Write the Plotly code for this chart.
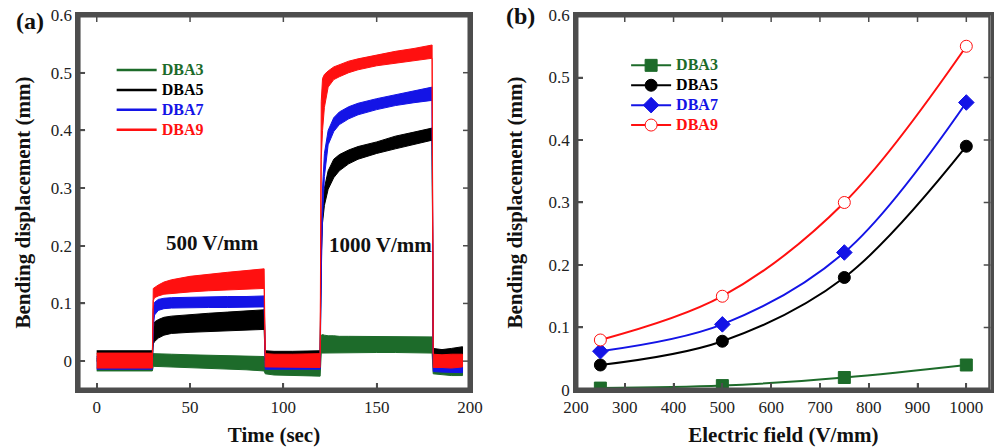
import plotly.graph_objects as go

# ---------------- Panel (a): time response (noise band envelopes) ----------------
time_s = [0, 29.8, 30.3, 31, 33, 36, 40, 50, 60, 70, 80, 89.7, 90.3, 95, 105, 119.7,
          120.3, 121, 122, 124, 127, 130, 135, 140, 150, 160, 170, 179.7, 180.3, 185, 190, 196]

dba9_upper = [0.014, 0.014, 0.126, 0.128, 0.132, 0.137, 0.141, 0.147, 0.151, 0.154, 0.157, 0.160,
              0.013, 0.012, 0.012, 0.013, 0.45, 0.49, 0.497, 0.503, 0.51, 0.514, 0.52, 0.524,
              0.531, 0.537, 0.542, 0.548, 0.012, 0.011, 0.012, 0.012]
dba9_lower = [-0.012, -0.012, 0.105, 0.110, 0.113, 0.116, 0.118, 0.120, 0.122, 0.124, 0.125, 0.126,
              -0.010, -0.011, -0.011, -0.011, 0.35, 0.40, 0.44, 0.475, 0.488, 0.493, 0.5, 0.505,
              0.512, 0.517, 0.521, 0.525, -0.011, -0.011, -0.012, -0.010]

dba7_upper = [0.008, 0.008, 0.09, 0.102, 0.107, 0.109, 0.110, 0.111, 0.111, 0.112, 0.112, 0.113,
              0.006, 0.006, 0.006, 0.006, 0.2, 0.3, 0.36, 0.40, 0.422, 0.432, 0.441, 0.447,
              0.455, 0.462, 0.468, 0.475, 0.002, 0.001, 0.002, 0.002]
dba7_lower = [-0.014, -0.014, 0.06, 0.080, 0.088, 0.091, 0.092, 0.093, 0.093, 0.093, 0.093, 0.094,
              -0.014, -0.014, -0.014, -0.014, 0.15, 0.25, 0.32, 0.375, 0.398, 0.41, 0.42, 0.427,
              0.436, 0.443, 0.448, 0.452, -0.018, -0.019, -0.020, -0.020]

dba5_upper = [0.018, 0.018, 0.05, 0.068, 0.072, 0.076, 0.078, 0.081, 0.083, 0.085, 0.087, 0.089,
              0.018, 0.017, 0.017, 0.018, 0.22, 0.28, 0.30, 0.33, 0.35, 0.358, 0.366, 0.372,
              0.38, 0.39, 0.397, 0.404, 0.022, 0.020, 0.022, 0.025]
dba5_lower = [0.0, 0.0, 0.03, 0.034, 0.040, 0.045, 0.048, 0.050, 0.052, 0.053, 0.054, 0.055,
              0.0, 0.0, 0.0, 0.0, 0.18, 0.24, 0.27, 0.298, 0.318, 0.33, 0.342, 0.35,
              0.36, 0.368, 0.376, 0.383, 0.003, 0.003, 0.004, 0.004]

dba3_upper = [0.005, 0.005, 0.013, 0.013, 0.013, 0.012, 0.012, 0.011, 0.010, 0.010, 0.009, 0.008,
              -0.005, -0.006, -0.006, -0.007, 0.045, 0.046, 0.045, 0.044, 0.044, 0.043, 0.043, 0.043,
              0.042, 0.042, 0.042, 0.042, -0.006, -0.008, -0.010, -0.010]
dba3_lower = [-0.017, -0.017, -0.009, -0.010, -0.010, -0.010, -0.011, -0.012, -0.013, -0.014, -0.015, -0.017,
              -0.022, -0.024, -0.025, -0.026, 0.014, 0.015, 0.015, 0.015, 0.015, 0.015, 0.015, 0.015,
              0.015, 0.015, 0.015, 0.014, -0.022, -0.024, -0.025, -0.025]

# ---------------- Panel (b): displacement vs field ----------------
field = [250, 500, 750, 1000]
b_dba3 = [0.003, 0.007, 0.020, 0.040]
b_dba5 = [0.040, 0.078, 0.180, 0.390]
b_dba7 = [0.062, 0.105, 0.220, 0.460]
b_dba9 = [0.080, 0.150, 0.300, 0.550]

# axis ranges and tick values
range_time = [-10, 200]
range_field = [200, 1050]
range_disp_a = [-0.05, 0.6]
range_disp_b = [0, 0.6]
ticks_time = [0, 50, 100, 150, 200]
ticks_field = [200, 300, 400, 500, 600, 700, 800, 900, 1000]
ticks_disp = [0, 0.1, 0.2, 0.3, 0.4, 0.5, 0.6]

names = ["DBA3", "DBA5", "DBA7", "DBA9"]
colors = ["#1d6b2a", "#000000", "#1414e6", "#ff1010"]

SERIF = "Liberation Serif"
AXC = "#4d4d4d"
TICKLEN = 7
W, H = 997, 448
X1_DOM = [0.0783, 0.4714]
X2_DOM = [0.5777, 0.9937]
Y_DOM = [0.1295, 0.9665]


def legend_name(name, col):
    return f'<span style="color:{col};font-size:16px">{name}</span>'


fig = go.Figure()

bands = [(dba3_upper, dba3_lower), (dba5_upper, dba5_lower),
         (dba7_upper, dba7_lower), (dba9_upper, dba9_lower)]
for name, col, (up, lo) in zip(names, colors, bands):
    fig.add_trace(go.Scatter(
        x=time_s + time_s[::-1], y=up + lo[::-1],
        mode="lines", fill="toself", fillcolor=col,
        line=dict(color=col, width=1), showlegend=False,
        xaxis="x", yaxis="y", hoverinfo="skip"))
# legend entries for panel (a)
for name, col in zip(names, colors):
    fig.add_trace(go.Scatter(
        x=[None], y=[None], mode="lines", line=dict(color=col, width=2.5),
        name=legend_name(name, col),
        legend="legend", xaxis="x", yaxis="y"))

symbols = ["square", "circle", "diamond", "circle"]
series_b = [b_dba3, b_dba5, b_dba7, b_dba9]
for name, col, sym, vals in zip(names, colors, symbols, series_b):
    open_marker = name == "DBA9"
    fig.add_trace(go.Scatter(
        x=field, y=vals, mode="lines+markers",
        line=dict(color=col, width=2, shape="spline", smoothing=1.0),
        marker=dict(symbol=sym, size=12,
                    color="white" if open_marker else col,
                    line=dict(color=col, width=1)),
        name=legend_name(name, col),
        legend="legend2", xaxis="x2", yaxis="y2"))


# frame + tick marks as line traces, derived from axis ranges/ticks
def frame_traces(xr, yr, xaxis, yaxis, xdom, xticks, yticks):
    plot_w = (xdom[1] - xdom[0]) * W
    plot_h = (Y_DOM[1] - Y_DOM[0]) * H
    dx = (xr[1] - xr[0]) * TICKLEN / plot_w
    dy = (yr[1] - yr[0]) * TICKLEN / plot_h
    fx, fy = [], []
    for v in xticks:
        fx += [v, v, None, v, v, None]
        fy += [yr[0], yr[0] + dy, None, yr[1], yr[1] - dy, None]
    for v in yticks:
        fx += [xr[0], xr[0] + dx, None, xr[1], xr[1] - dx, None]
        fy += [v, v, None, v, v, None]
    fig.add_trace(go.Scatter(x=fx, y=fy, mode="lines", line=dict(color=AXC, width=1.5),
                             showlegend=False, hoverinfo="skip", xaxis=xaxis, yaxis=yaxis))
    fig.add_trace(go.Scatter(x=[xr[0], xr[1], xr[1], xr[0], xr[0]],
                             y=[yr[0], yr[0], yr[1], yr[1], yr[0]],
                             mode="lines", line=dict(color=AXC, width=5),
                             showlegend=False, hoverinfo="skip", xaxis=xaxis, yaxis=yaxis))


frame_traces(range_time, range_disp_a, "x", "y", X1_DOM, ticks_time, ticks_disp)
frame_traces(range_field, range_disp_b, "x2", "y2", X2_DOM, ticks_field, ticks_disp)


def axis(**kw):
    d = dict(
        showline=True, linecolor=AXC, linewidth=2.5, mirror=True,
        ticks="inside", ticklen=TICKLEN, tickwidth=1.5, tickcolor=AXC,
        showgrid=False, zeroline=False, automargin=False, layer="above traces",
        tickfont=dict(family=SERIF, size=17, color="#222222"),
    )
    d.update(kw)
    return d


TITLE_FONT = dict(family=SERIF, size=21, color="#111111", weight="bold")

fig.update_layout(
    width=W, height=H, autosize=False,
    margin=dict(l=0, r=0, t=0, b=0, pad=0),
    paper_bgcolor="white", plot_bgcolor="white",
    xaxis=axis(domain=X1_DOM, range=range_time, tickvals=ticks_time,
               anchor="y", title=dict(text="Time (sec)", standoff=12, font=TITLE_FONT)),
    yaxis=axis(domain=Y_DOM, range=range_disp_a, tickvals=ticks_disp,
               anchor="x", title=dict(text="Bending displacement (mm)", standoff=15, font=TITLE_FONT)),
    xaxis2=axis(domain=X2_DOM, range=range_field, tickvals=ticks_field,
                anchor="y2", title=dict(text="Electric field (V/mm)", standoff=12, font=TITLE_FONT)),
    yaxis2=axis(domain=Y_DOM, range=range_disp_b, tickvals=ticks_disp,
                anchor="x2", title=dict(text="Bending displacement (mm)", standoff=21, font=TITLE_FONT)),
    legend=dict(x=0.112, y=0.877, xanchor="left", yanchor="top", bgcolor="rgba(0,0,0,0)",
                font=dict(family=SERIF, size=13, weight="bold"), itemwidth=40,
                tracegroupgap=0),
    legend2=dict(x=0.628, y=0.8875, xanchor="left", yanchor="top", bgcolor="rgba(0,0,0,0)",
                 font=dict(family=SERIF, size=13, weight="bold"), itemwidth=40,
                 tracegroupgap=0),
    annotations=[
        dict(text="<b>500 V/mm</b>", x=62.3, y=0.205, xref="x", yref="y", showarrow=False,
             font=dict(family=SERIF, size=21, color="#111111")),
        dict(text="<b>1000 V/mm</b>", x=151.8, y=0.201, xref="x", yref="y", showarrow=False,
             font=dict(family=SERIF, size=21, color="#111111")),
        dict(text="<b>(a)</b>", x=30 / W, y=1 - 21 / H, xref="paper", yref="paper",
             xanchor="center", yanchor="middle",
             showarrow=False, font=dict(family=SERIF, size=24, color="#111111")),
        dict(text="<b>(b)</b>", x=520 / W, y=1 - 16 / H, xref="paper", yref="paper",
             xanchor="center", yanchor="middle",
             showarrow=False, font=dict(family=SERIF, size=24, color="#111111")),
    ],
)

fig.write_html("out.html", config={"displayModeBar": False},
               post_script="document.body.style.margin='0';")
